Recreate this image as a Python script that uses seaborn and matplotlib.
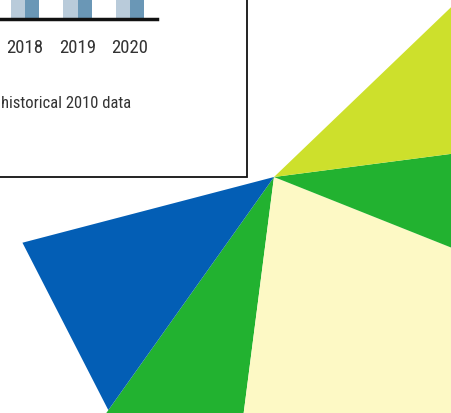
import numpy as np
import pandas as pd
import matplotlib
matplotlib.use('Agg')
import matplotlib.pyplot as plt
from matplotlib.patches import Rectangle
import seaborn as sns

# bar inset (tops are cut off in the picture)
years = ['2018', '2019', '2020']
series = ['Historical', 'Projected']
historical_vals = [44, 46, 47]
projected_vals = [50, 53, 55]
bar_colors = ['#b9cbda', '#6a97b6']
note_text = 'historical 2010 data'

# pie slices, counter-clockwise from the lime slice's upper edge
slice_names = ['Not shown', 'Blue', 'Green A', 'Cream', 'Green B', 'Lime']
slice_pct = [41.9, 11.1, 7.8, 21.0, 8.1, 10.1]
slice_colors = ['white', '#035eb5', '#22b230', '#fdf9c5', '#22b230', '#cde02c']

sns.set_style('white')
plt.rcParams['font.family'] = ['Roboto Condensed', 'Liberation Sans', 'DejaVu Sans']

W, H = 451, 413
fig = plt.figure(figsize=(W / 100, H / 100), dpi=100)
ax = fig.add_axes([0, 0, 1, 1])

cx, cy = 274, H - 177
wedges, _ = ax.pie(slice_pct, colors=slice_colors, startangle=43.8, counterclock=True,
                   center=(cx, cy), radius=600, wedgeprops=dict(linewidth=0))

# the blue slice is drawn with a straight outer edge
bw = wedges[1]
t1, t2 = np.radians(bw.theta1), np.radians(bw.theta2)
r1, r2 = 260, 286
bw.remove()
ax.fill([cx, cx + r1 * np.cos(t1), cx + r2 * np.cos(t2)],
        [cy, cy + r1 * np.sin(t1), cy + r2 * np.sin(t2)],
        color=slice_colors[1], lw=0)

ax.set_xlim(0, W)
ax.set_ylim(0, H)
ax.set_aspect('auto')
ax.axis('off')

# framed box in the top-left
ax.add_patch(Rectangle((-5, H - 177), 252, 200, facecolor='white',
                       edgecolor='#111111', lw=1.3, zorder=3))
ax.text(1, H - 104, note_text, ha='left', va='center', fontsize=12,
        color='#333333', zorder=4)

df = pd.DataFrame({
    'year': years * 2,
    'series': [series[0]] * 3 + [series[1]] * 3,
    'value': historical_vals + projected_vals,
})

bax = fig.add_axes([0, (H - 18.5) / H, 157 / W, 200 / H])
sns.barplot(data=df, x='year', y='value', hue='series', palette=bar_colors,
            width=0.55, saturation=1, legend=False, ax=bax, linewidth=0)
bax.set_xlim(-0.476, 2.514)
bax.set_ylim(0, 60)
bax.patch.set_alpha(0)
sns.despine(ax=bax, left=True)
bax.spines['bottom'].set_linewidth(2.5)
bax.spines['bottom'].set_color('#111111')
bax.set_yticks([])
bax.set_xlabel('')
bax.set_ylabel('')
bax.tick_params(axis='x', length=0, pad=15, labelsize=13.5, labelcolor='#333333')

fig.savefig('out.png', dpi=100)
